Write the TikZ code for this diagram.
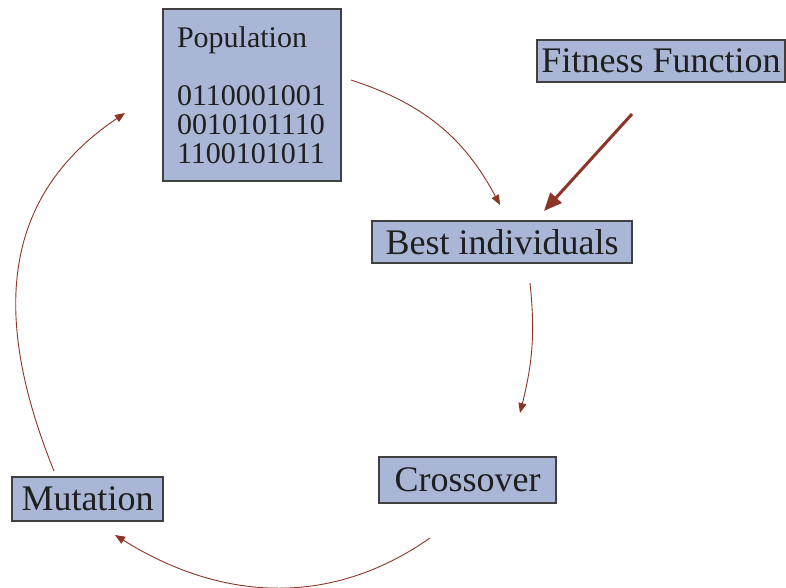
\documentclass[tikz,border=0pt]{standalone}
\usepackage{fontspec}
\setmainfont{Liberation Serif}
\usetikzlibrary{positioning,arrows.meta}
\definecolor{boxfill}{RGB}{169,182,214}
\definecolor{boxline}{RGB}{64,64,64}
\definecolor{arrowred}{RGB}{140,52,40}
\begin{document}
\begin{tikzpicture}[x=1pt,y=1pt]
    \tikzstyle{every node}=[fill=boxfill,draw=boxline,line width=1.2,rectangle,inner sep=0,text=black!88,font=\fontsize{36}{36}\selectfont]
    \tikzstyle{code}=[align=left,text width=150,font=\fontsize{30}{29}\selectfont]
    \tikzstyle{link}=[color=arrowred,line width=0.9,-{Triangle[length=10pt,width=8pt]}]
    \tikzstyle{strong}=[color=arrowred,line width=3,-{Triangle[length=18pt,width=15pt]}]
    {
        \useasboundingbox (0,0) rectangle (786,587);

        \node[code,minimum width=178,minimum height=172] (pop) at (252,492)
            {Population\\[29pt]0110001001\\0010101110\\1100101011\\[-8pt]};
        \node[minimum width=248,minimum height=42] (fit) at (661,526) {Fitness Function};
        \node[minimum width=260,minimum height=42] (best) at (502,345) {Best individuals};
        \node[minimum width=177,minimum height=46] (cross) at (467.5,107) {Crossover};
        \node[minimum width=151,minimum height=44] (mut) at (87.5,88) {Mutation};

        % free ends of the cycle arrows
        \coordinate (popout) at (351,507);
        \coordinate (bestin) at (500,382);
        \coordinate (bestout) at (530,304);
        \coordinate (crossin) at (520,174);
        \coordinate (crossout) at (430,49);
        \coordinate (mutin) at (115,52);
        \coordinate (mutout) at (54,116);
        \coordinate (popin) at (125,474);
        \coordinate (fitout) at (632,473);
        \coordinate (fitin) at (544,376);

        \path[link]
            (popout) edge[out=-18,in=118] (bestin)
            (bestout) edge[out=-84,in=76] (crossin)
            (crossout) edge[out=215,in=-32] (mutin)
            (mutout) edge[out=112,in=214,looseness=1.1] (popin);

        \draw[strong] (fitout) -- (fitin);
    }
\end{tikzpicture}
\end{document}
